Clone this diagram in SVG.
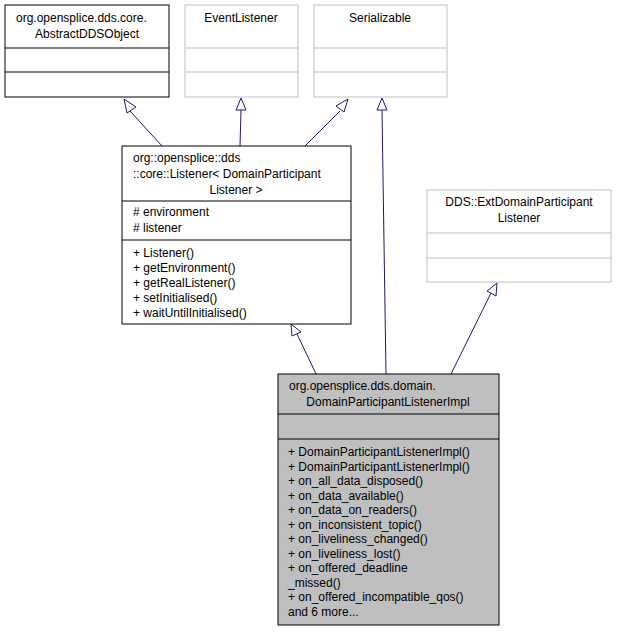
<svg xmlns="http://www.w3.org/2000/svg" width="618" height="632" viewBox="0 0 618 632">
<style>
text{font-family:"Liberation Sans",Arial,sans-serif;font-size:12px;fill:#000}
.c{text-anchor:middle}
.b{fill:#fff;stroke:#000;stroke-width:1}
.g{fill:#fff;stroke:#bfbfbf;stroke-width:1}
.m{fill:#bfbfbf;stroke:#000;stroke-width:1}
.e{fill:none;stroke:#191970;stroke-width:1}
.a{fill:#fff;stroke:#191970;stroke-width:1}
</style>
<g id="connectors">
<path class="e" d="M162,146 L130,111"/><polygon class="a" points="124,99 136,107 127,113"/>
<path class="e" d="M240,146 L241,110"/><polygon class="a" points="241,98 246,110 236,110"/>
<path class="e" d="M305,146 L340,111"/><polygon class="a" points="348,99 344,112 336,106"/>
<path class="e" d="M386,374 L382,110"/><polygon class="a" points="382,98 387,110 377,110"/>
<path class="e" d="M316,374 L297,334"/><polygon class="a" points="291,324 301,332 292,336"/>
<path class="e" d="M451,374 L491,293"/><polygon class="a" points="497,283 496,296 487,291"/>
</g>
<g id="abstract">
<rect class="b" x="5" y="5" width="164" height="92"/>
<path d="M5,48H169M5,72H169" stroke="#000"/>
<text x="16" y="22">org.opensplice.dds.core.</text>
<text x="87" y="38" class="c">AbstractDDSObject</text>
</g>
<g id="eventlistener">
<rect class="g" x="185" y="5" width="113" height="92"/>
<path d="M185,48H298M185,72H298" stroke="#bfbfbf"/>
<text x="241" y="22" class="c">EventListener</text>
</g>
<g id="serializable">
<rect class="g" x="314" y="5" width="133" height="92"/>
<path d="M314,48H447M314,72H447" stroke="#bfbfbf"/>
<text x="380" y="22" class="c">Serializable</text>
</g>
<g id="listener">
<rect class="b" x="122" y="146" width="229" height="178"/>
<path d="M122,201H351M122,240H351" stroke="#000"/>
<text x="133" y="162">org::opensplice::dds</text>
<text x="133" y="178">::core::Listener&lt; DomainParticipant</text>
<text x="236" y="194" class="c">Listener &gt;</text>
<text x="133" y="216"># environment</text>
<text x="133" y="232"># listener</text>
<text x="133" y="257">+ Listener()</text>
<text x="133" y="272">+ getEnvironment()</text>
<text x="133" y="287">+ getRealListener()</text>
<text x="133" y="302">+ setInitialised()</text>
<text x="133" y="317">+ waitUntilInitialised()</text>
</g>
<g id="ext">
<rect class="g" x="427" y="190" width="184" height="92"/>
<path d="M427,233H611M427,258H611" stroke="#bfbfbf"/>
<text x="519" y="206" class="c">DDS::ExtDomainParticipant</text>
<text x="519" y="222" class="c">Listener</text>
</g>
<g id="impl">
<rect class="m" x="278" y="374" width="221" height="251"/>
<path d="M278,414H499M278,439H499" stroke="#000"/>
<text x="289" y="390">org.opensplice.dds.domain.</text>
<text x="388" y="406" class="c">DomainParticipantListenerImpl</text>
<text x="288" y="456">+ DomainParticipantListenerImpl()</text>
<text x="288" y="470.5">+ DomainParticipantListenerImpl()</text>
<text x="288" y="485">+ on_all_data_disposed()</text>
<text x="288" y="499.5">+ on_data_available()</text>
<text x="288" y="514">+ on_data_on_readers()</text>
<text x="288" y="528.5">+ on_inconsistent_topic()</text>
<text x="288" y="543">+ on_liveliness_changed()</text>
<text x="288" y="557.5">+ on_liveliness_lost()</text>
<text x="288" y="572">+ on_offered_deadline</text>
<text x="288" y="586.5">_missed()</text>
<text x="288" y="601">+ on_offered_incompatible_qos()</text>
<text x="288" y="615.5">and 6 more...</text>
</g>
</svg>
